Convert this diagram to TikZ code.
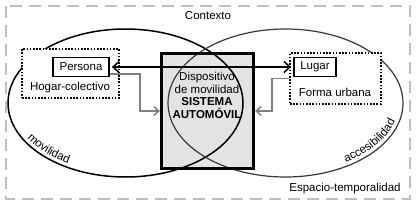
\documentclass[tikz,border=0pt]{standalone}
\usepackage{fontspec}
\setmainfont{Liberation Sans}
\usetikzlibrary{arrows.meta,decorations.text}
\begin{document}
\begin{tikzpicture}[x=1pt,y=-1pt,
  every node/.style={font=\fontsize{11.5}{12.5}\selectfont, inner sep=0pt},
  outerframe/.style={draw=black!25, line width=2.5pt, dash pattern=on 12pt off 7pt},
  dotbox/.style={draw=black, fill=white, line width=1.6pt, dash pattern=on 1.6pt off 1.6pt},
  labelbox/.style={draw=black, fill=white, line width=1.8pt, minimum height=19pt},
  sysbox/.style={draw=black, line width=3.2pt, fill=black!11, minimum width=92pt, minimum height=115pt},
  grayarrow/.style={draw=black!50, line width=1.5pt, -{Straight Barb[length=5pt,width=9pt]}},
  blackarrow/.style={draw=black, line width=1.5pt, {Straight Barb[length=6pt,width=11pt]}-{Straight Barb[length=6pt,width=11pt]}, shorten <=2pt, shorten >=2pt},
  curvelabel/.style={decorate, decoration={text along path, text align=center, text={|\fontsize{11.5}{12}\selectfont|#1}}}
]
\useasboundingbox (0,0) rectangle (416,206);
\draw[outerframe] (6,6) rectangle (410,199);
\node (ctx) at (208,16) {Contexto};
\node (esp) at (345,189) {Espacio-temporalidad};
% central box (fill only first)
\node[sysbox, draw=none] (sysfill) at (207.5,111) {};
% ellipses
\coordinate (lcen) at (125.5,103);
\coordinate (rcen) at (285.5,103);
\draw[black, line width=1.5pt] (lcen) ellipse [x radius=117.5, y radius=74];
\draw[black!78, line width=1.2pt] (rcen) ellipse [x radius=117.5, y radius=74];
\node[sysbox, fill=none] (sys) at (207.5,111) {};
\node[align=center] (systxt) at (207,95.5) {Dispositivo\\de movilidad\\\textbf{SISTEMA}\\\textbf{AUTOMÓVIL}};
% dotted groups
\node[dotbox, minimum width=97pt, minimum height=49pt] (pd) at (70.5,73.5) {};
\node[dotbox, minimum width=91pt, minimum height=51pt] (ld) at (335.5,78.5) {};
\node[labelbox, minimum width=56pt] (persona) at (81,67) {Persona};
\node (hogar) at (70,88) {Hogar-colectivo};
\node[labelbox, minimum width=42pt] (lugar) at (315,67) {Lugar};
\node (forma) at (335,92) {Forma urbana};
% labels along ellipses
\path[curvelabel=movilidad] (lcen) ++(170:113.5 and 70) arc[start angle=170, end angle=106, x radius=113.5, y radius=70];
\path[curvelabel=accesibilidad] (rcen) ++(70:113.5 and 70) arc[start angle=70, end angle=-3, x radius=113.5, y radius=70];
% arrows
\draw[blackarrow] (persona.east) -- (lugar.west);
\coordinate (lc) at (140,111);
\coordinate (rc) at (272,111);
\draw[grayarrow] ([yshift=-7pt]persona.east) -| (lc) -- (sys.west);
\draw[grayarrow] (ld.west) -| (rc) -- (sys.east);
\end{tikzpicture}
\end{document}
